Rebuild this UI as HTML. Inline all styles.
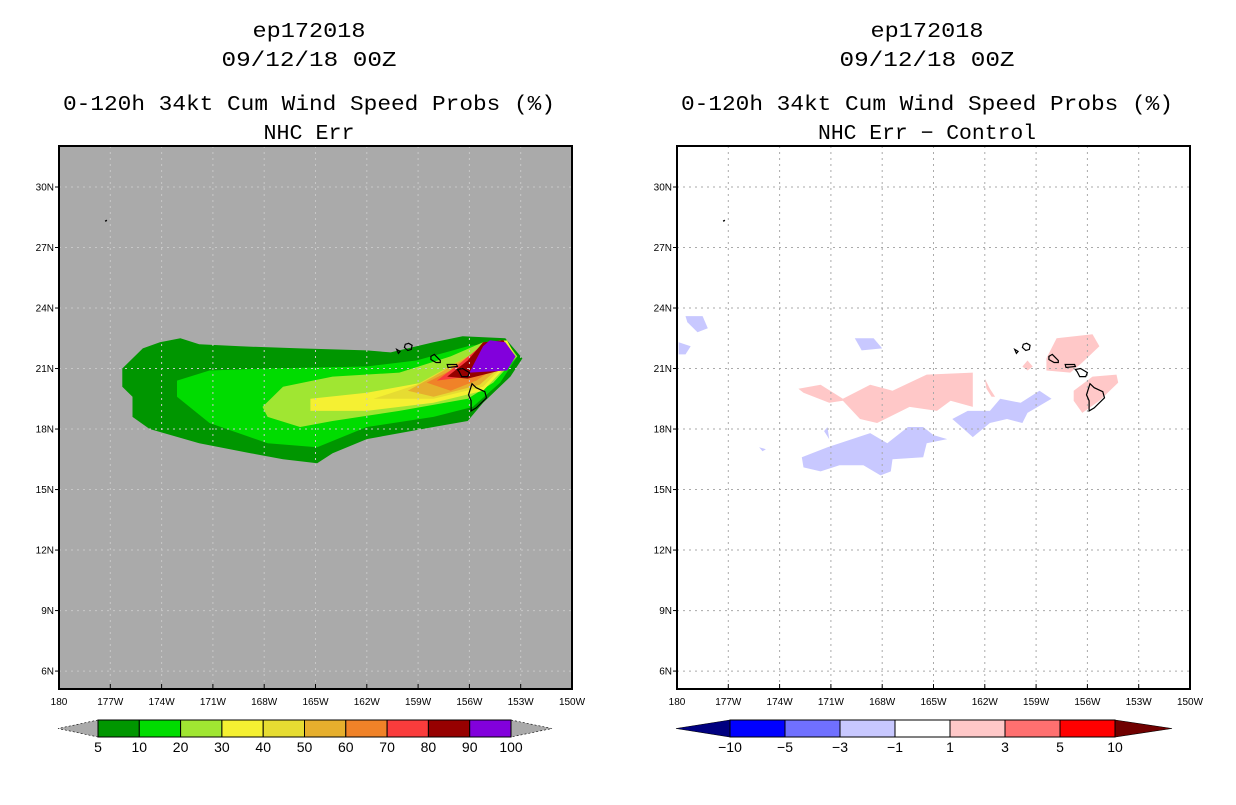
<!DOCTYPE html>
<html><head><meta charset="utf-8">
<style>
html,body{margin:0;padding:0;background:#fff;}
body{width:1236px;height:800px;overflow:hidden;font-family:"Liberation Sans",sans-serif;}
svg text{font-family:"Liberation Sans",sans-serif;}
svg text.ttl{font-family:"Liberation Mono",monospace;}
</style></head>
<body>
<svg id="root" width="1236" height="800" xmlns="http://www.w3.org/2000/svg">
  <g id="left"></g>
  <g id="right"></g>
</svg>
<script>
const NS="http://www.w3.org/2000/svg";
// ---- data ----
const lonTicks=[180,177,174,171,168,165,162,159,156,153,150];
const lonTickLabels=["180","177W","174W","171W","168W","165W","162W","159W","156W","153W","150W"];
const latTicks=[30,27,24,21,18,15,12,9,6];
const latTickLabels=["30N","27N","24N","21N","18N","15N","12N","9N","6N"];
const probLevels=["5","10","20","30","40","50","60","70","80","90","100"];
const probColors=["#009600","#00dc00","#a0e632","#f5f032","#e6dc32","#e6af2d","#f08228","#fa3c3c","#960000","#8200dc"];
const diffLevels=["\u221210","\u22125","\u22123","\u22121","1","3","5","10"];
const diffColors=["#0000ff","#7070ff","#c8c8ff","#ffffff","#ffc8c8","#ff7070","#ff0000"];
const diffEnds=["#000080","#700000"];
// probability contours (lonW, latN), 5% .. 90%
const prob5=[[176.3,21.0],[175.1,22.0],[174.1,22.3],[172.9,22.5],[171.8,22.2],[169.4,22.1],[165.9,22.0],[162.0,21.9],[160.6,21.8],[158.1,22.3],[156.4,22.6],[153.9,22.5],[152.9,21.5],[153.6,20.6],[155.2,19.3],[156.1,18.4],[158.1,18.1],[162.0,17.5],[164.0,16.8],[164.9,16.3],[166.9,16.5],[168.8,16.8],[171.8,17.3],[174.7,18.0],[175.7,18.6],[175.7,19.6],[176.3,20.1]];
const prob10=[[173.1,20.4],[171.2,20.9],[167.8,21.0],[162.0,21.1],[159.1,21.4],[156.1,22.1],[153.9,22.4],[153.2,21.6],[154.2,20.3],[155.8,19.1],[158.1,18.6],[162.0,18.1],[164.9,17.1],[167.8,17.3],[171.2,18.3],[173.1,19.6]];
const prob20=[[168.1,19.1],[166.9,20.1],[164.0,20.6],[160.1,20.8],[157.1,21.6],[155.2,22.3],[153.9,22.4],[153.2,21.6],[154.6,20.3],[156.1,19.5],[160.1,18.9],[164.0,18.4],[165.9,18.1],[167.8,18.6]];
const prob30=[[165.3,19.5],[162.0,19.8],[158.1,20.4],[155.6,21.9],[153.8,22.4],[153.3,21.6],[155.2,19.9],[158.1,19.3],[162.0,18.9],[165.3,18.9]];
const prob40=[[161.6,19.5],[159.1,20.2],[156.1,21.6],[154.2,22.4],[153.5,21.6],[155.2,20.1],[158.1,19.5]];
const prob50=[[159.6,19.9],[158.1,20.6],[156.1,21.6],[154.2,22.4],[153.5,21.6],[155.4,20.2],[158.1,19.6]];
const prob60=[[158.5,20.3],[157.1,20.9],[155.2,22.1],[154.0,22.4],[153.5,21.6],[155.6,20.4],[157.1,19.9]];
const prob70=[[157.9,20.4],[156.5,21.3],[155.2,22.2],[154.0,22.4],[153.5,21.6],[156.1,20.6]];
const prob80=[[157.3,20.6],[156.1,21.4],[155.2,22.3],[154.0,22.4],[153.6,21.6],[154.2,20.9],[156.1,20.5]];
const prob90=[[155.2,22.1],[154.8,22.4],[153.9,22.3],[153.3,21.6],[153.8,20.9],[156.0,20.8]];
// difference contours
const diffPos1=[[172.9,20.0],[171.6,20.2],[170.3,19.5],[168.7,20.2],[167.4,19.9],[165.4,20.7],[162.7,20.8],[162.7,19.1],[164.0,19.4],[164.8,18.9],[166.4,19.1],[168.3,18.3],[169.3,18.5],[170.3,19.4],[171.1,19.3],[172.6,19.8]];
const diffPos2=[[158.4,21.5],[157.8,22.5],[155.7,22.7],[155.3,22.1],[156.3,21.3],[157.0,20.8],[158.4,20.9]];
const diffPos3=[[156.8,19.9],[155.7,20.6],[154.3,20.7],[154.2,20.3],[155.3,19.4],[156.3,18.8],[156.8,19.4]];
const diffPos4=[[159.8,21.1],[159.5,21.4],[159.2,21.1],[159.5,20.9]];
const diffPos5=[[162.0,20.5],[161.9,20.0],[161.6,19.6],[161.4,19.6],[161.7,20.0]];
const diffNeg1=[[163.9,18.5],[163.0,18.9],[161.7,18.9],[161.1,19.5],[159.9,19.3],[158.8,19.9],[158.1,19.5],[159.5,18.8],[159.8,18.3],[160.7,18.5],[161.7,18.3],[162.7,17.6],[163.5,18.2]];
const diffNeg2=[[172.7,16.6],[171.2,17.1],[168.7,17.8],[167.7,17.3],[166.5,18.1],[165.6,18.1],[165.0,17.7],[164.2,17.5],[165.4,17.3],[165.6,16.6],[167.4,16.5],[167.5,15.9],[168.1,15.7],[169.1,16.2],[170.5,16.2],[171.6,15.9],[172.6,16.1]];
const diffNeg3=[[179.5,23.6],[178.5,23.6],[178.2,23.0],[178.8,22.8],[179.4,23.3]];
const diffNeg4=[[179.9,22.3],[179.2,22.1],[179.5,21.7],[179.9,21.7]];
const diffNeg5=[[169.6,22.5],[168.5,22.5],[168.0,22.0],[169.2,21.9]];
const diffNeg6=[[175.2,17.1],[174.8,17.0],[175.0,16.9]];
const diffNeg7=[[171.4,17.9],[171.2,18.1],[171.1,17.5]];
// islands
const islands=[
 [[159.75,22.2],[159.55,22.25],[159.35,22.15],[159.4,21.95],[159.6,21.9],[159.8,22.05]],
 [[158.25,21.6],[158.05,21.7],[157.7,21.4],[157.7,21.3],[157.95,21.3],[158.25,21.45]],
 [[157.3,21.2],[156.75,21.2],[156.7,21.1],[157.25,21.05]],
 [[156.7,20.95],[156.4,21.0],[156.0,20.8],[156.1,20.6],[156.45,20.6],[156.6,20.85]],
 [[155.85,20.25],[155.6,20.05],[155.1,19.85],[155.0,19.55],[155.6,19.05],[155.9,18.9],[155.9,19.4],[156.05,19.7]],
 [[160.25,21.95],[160.05,21.85],[160.15,21.75]]
];
// ---- projection ----
function mk(tag,attrs,parent){const e=document.createElementNS(NS,tag);for(const k in attrs)e.setAttribute(k,attrs[k]);parent.appendChild(e);return e;}
function proj(ox){return {x:lw=>ox+(180-lw)*17.1, y:la=>187+(30-la)*20.17};}
function poly(pts,P,fill,stroke,parent,name){
  const d=pts.map(p=>P.x(p[0]).toFixed(1)+","+P.y(p[1]).toFixed(1)).join(" ");
  const e=mk("polygon",{points:d,fill:fill,stroke:stroke||"none","stroke-width":stroke?1.2:0},parent);
  
  
  return e;
}
function titles(g,cx,sub,subLen){
  const t=[["ep172018",37,"title-storm-id",113],["09/12/18 00Z",66,"title-date",175],["0-120h 34kt Cum Wind Speed Probs (%)",110,"title-product",492],[sub,139,"subtitle",subLen]];
  t.forEach(a=>{const e=mk("text",{x:cx,y:a[1],"text-anchor":"middle","font-size":"21",fill:"#000","class":"ttl",textLength:a[3],lengthAdjust:"spacingAndGlyphs"},g);e.textContent=a[0];
    
    });
}
function axes(g,ox,bg){
  const P=proj(ox);
  const bgr=mk("rect",{x:ox,y:146,width:513,height:543,fill:bg},g);
  
  
  return P;
}
function frame(g,ox,P,gridCol){
  const grid=mk("g",{},g);
  
  
  lonTicks.forEach((l,i)=>{
    const x=P.x(l);
    if(i>0&&i<lonTicks.length-1) mk("line",{x1:x,y1:146,x2:x,y2:689,stroke:gridCol,"stroke-width":1,"stroke-dasharray":"2,4"},grid);
    mk("line",{x1:x,y1:689,x2:x,y2:684,stroke:"#000"},g);
    const t=mk("text",{x:x,y:705,"text-anchor":"middle","font-size":"10",fill:"#000"},g);t.textContent=lonTickLabels[i];
    
    
  });
  latTicks.forEach((l,i)=>{
    const y=P.y(l);
    mk("line",{x1:ox,y1:y,x2:ox+513,y2:y,stroke:gridCol,"stroke-width":1,"stroke-dasharray":"2,4"},grid);
    mk("line",{x1:ox,y1:y,x2:ox-4,y2:y,stroke:"#000"},g);
    const t=mk("text",{x:ox-5,y:y+3.5,"text-anchor":"end","font-size":"10",fill:"#000"},g);t.textContent=latTickLabels[i];
    
    
  });
  const b=mk("rect",{x:ox,y:146,width:513,height:543,fill:"none",stroke:"#000","stroke-width":2},g);
  
  
}
function drawIslands(g,P){
  islands.forEach(pts=>poly(pts,P,"none","#000",g,"island-outline"));
  const d=mk("line",{x1:P.x(177.3),y1:P.y(28.3),x2:P.x(177.2),y2:P.y(28.35),stroke:"#000","stroke-width":1.5},g);
  
  
}
function colorbar(g,x0,x1,tipL,tipR,colors,labels,endL,endR,name){
  const cb=mk("g",{},g);
  
  
  const y0=720,y1=737,ym=728.5,n=colors.length,w=(x1-x0)/n;
  const l=mk("polygon",{points:`${x0},${y0} ${tipL},${ym} ${x0},${y1}`,fill:endL,stroke:"#000","stroke-width":0.6,"stroke-dasharray":endL==="#aaaaaa"?"2,2":"none"},cb);
  
  
  const r=mk("polygon",{points:`${x1},${y0} ${tipR},${ym} ${x1},${y1}`,fill:endR,stroke:"#000","stroke-width":0.6,"stroke-dasharray":endR==="#aaaaaa"?"2,2":"none"},cb);
  
  
  colors.forEach((c,i)=>{
    const s=mk("rect",{x:x0+i*w,y:y0,width:w,height:y1-y0,fill:c,stroke:"#000","stroke-width":1},cb);
    
    
  });
  labels.forEach((t,i)=>{
    const e=mk("text",{x:x0+i*w,y:752,"text-anchor":"middle","font-size":"14",fill:"#000"},cb);e.textContent=t;
    
    
  });
}
// ---- left ----
const L=document.getElementById("left");
titles(L,309,"NHC Err",91);
const PL=axes(L,59,"#aaaaaa");
const probs=[prob5,prob10,prob20,prob30,prob40,prob50,prob60,prob70,prob80,prob90];
probs.forEach((p,i)=>poly(p,PL,probColors[i],null,L,"prob-contour-"+probLevels[i]));
frame(L,59,PL,"#c8c8c8");
drawIslands(L,PL);
colorbar(L,98,511,58,552,probColors,probLevels,"#aaaaaa","#aaaaaa","left-colorbar");
// ---- right ----
const R=document.getElementById("right");
titles(R,927,"NHC Err \u2212 Control",218);
const PR=axes(R,677,"#ffffff");
[diffNeg1,diffNeg2,diffNeg3,diffNeg4,diffNeg5,diffNeg6,diffNeg7].forEach(p=>poly(p,PR,diffColors[2],null,R,"diff-negative-region"));
[diffPos1,diffPos2,diffPos3,diffPos4,diffPos5].forEach(p=>poly(p,PR,diffColors[4],null,R,"diff-positive-region"));
frame(R,677,PR,"#aaaaaa");
drawIslands(R,PR);
colorbar(R,730,1115,676,1172,diffColors,diffLevels,diffEnds[0],diffEnds[1],"right-colorbar");
</script>
</body></html>
